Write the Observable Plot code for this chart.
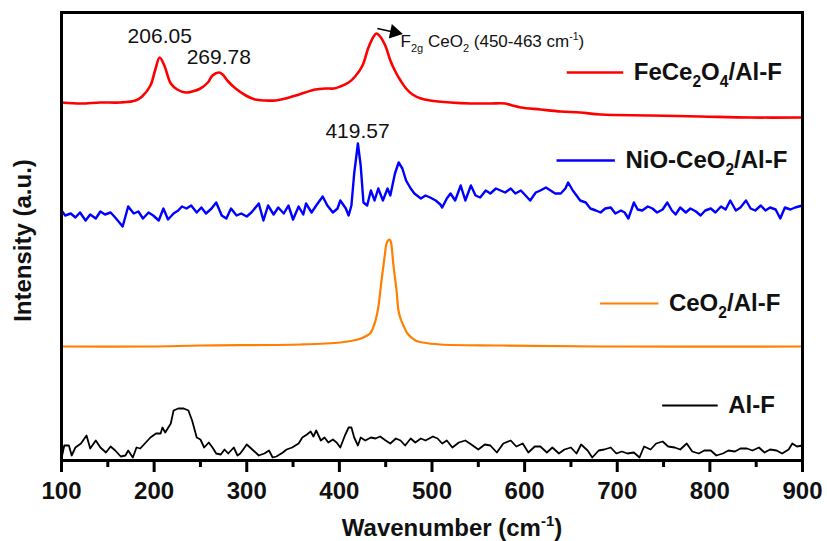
<!DOCTYPE html>
<html><head><meta charset="utf-8">
<script src="https://cdn.jsdelivr.net/npm/d3@7"></script>
<script src="https://cdn.jsdelivr.net/npm/@observablehq/plot@0.6"></script>
<style>body{margin:0;background:#fff}</style>
</head><body><div id="chart"></div>
<script>
// ---- data: [wavenumber (cm-1), stacked intensity (a.u.)] ----
const feCe = [[100,358],[121,357],[142,358],[164,358],[180,360],[187,364],[196,375],[201,390],[206,403],[211,395],[218,377],[225,371],[234,368],[241,369],[250,372],[258,378],[263,385],[270,388],[274,386],[280,379],[288,372],[299,365],[309,361],[320,360],[331,360],[342,362],[353,365],[363,368],[374,371],[385,372],[394,372],[401,374],[410,378],[417,384],[425,395],[431,412],[437,424],[440,427],[444,424],[450,414],[455,400],[461,388],[466,380],[472,372],[479,366],[488,362],[498,360],[520,358],[542,357],[563,357],[579,357],[587,355],[596,353],[617,351],[639,349],[660,348],[682,346],[736,345],[790,344],[844,343],[900,343]];

const nioCe = [[100,250],[104,245],[110,247],[115,243],[120,248],[126,240],[131,246],[137,242],[142,249],[147,246],[153,248],[158,243],[166,234],[172,254],[178,247],[183,249],[188,242],[194,248],[199,245],[205,240],[210,252],[215,241],[221,247],[226,250],[230,254],[235,252],[240,255],[246,248],[251,253],[256,247],[262,252],[267,258],[273,245],[278,242],[283,252],[289,245],[294,247],[300,244],[305,248],[313,257],[318,240],[323,255],[329,246],[334,253],[340,247],[345,255],[350,241],[356,254],[361,246],[364,257],[370,248],[375,255],[382,264],[387,255],[393,248],[398,252],[401,260],[407,252],[410,245],[413,255],[416,287],[420,317],[423,295],[426,258],[430,255],[434,270],[438,260],[442,272],[447,260],[452,272],[455,265],[460,287],[464,298],[468,292],[472,280],[477,272],[481,267],[488,262],[493,265],[498,263],[504,260],[509,256],[511,253],[516,262],[520,267],[525,260],[531,275],[536,260],[542,275],[547,265],[552,263],[558,270],[563,267],[569,272],[574,270],[579,268],[585,272],[590,267],[596,270],[601,265],[606,260],[612,268],[617,270],[623,273],[628,270],[633,267],[639,267],[644,272],[647,278],[652,270],[656,265],[660,260],[666,258],[671,252],[677,250],[682,248],[687,252],[693,253],[698,247],[704,250],[708,248],[712,242],[718,258],[722,251],[727,250],[733,254],[738,252],[743,248],[749,251],[754,258],[759,250],[763,246],[768,253],[774,248],[779,252],[785,249],[790,245],[795,250],[801,252],[806,248],[812,254],[817,251],[822,260],[828,250],[833,253],[839,260],[844,252],[849,250],[855,255],[860,250],[865,253],[871,251],[876,242],[881,253],[887,251],[892,253],[900,255]];

const ceO2 = [[100,114],[196,114],[250,115],[358,116],[401,118],[420,121],[430,125],[434,128],[439,140],[442,153],[445.5,180],[448.7,203],[450.9,217],[452.5,220],[454.1,221],[455.5,219],[456.3,215],[458.4,195],[461.7,170],[463.8,150],[466,142],[469.2,135],[473.5,127],[482.2,120],[490,118],[509,116],[574,115],[682,114],[900,114]];

const alF = [[100,2],[103,15],[108,15],[111,5],[115,13],[121,17],[127,25],[131,12],[137,20],[142,13],[148,8],[153,14],[158,10],[164,4],[169,5],[172,10],[177,3],[181,13],[185,12],[191,18],[196,23],[202,27],[207,27],[209,33],[212,28],[218,37],[221,50],[226,52],[232,52],[237,50],[241,40],[246,23],[250,21],[254,13],[259,18],[263,13],[267,7],[272,6],[276,11],[280,7],[286,13],[290,5],[293,7],[300,16],[306,11],[313,5],[319,7],[324,10],[328,3],[332,4],[339,8],[343,11],[349,13],[356,17],[360,23],[365,26],[369,29],[372,24],[375,30],[380,20],[384,23],[388,18],[393,21],[397,18],[401,13],[406,25],[410,33],[413,33],[416,23],[420,15],[423,23],[428,20],[434,23],[439,22],[444,24],[450,20],[455,17],[461,22],[466,20],[471,15],[477,22],[482,18],[488,22],[493,20],[501,24],[506,22],[511,17],[516,20],[522,13],[529,18],[536,20],[544,15],[550,11],[557,16],[563,15],[570,8],[577,17],[585,20],[591,14],[598,17],[604,8],[611,14],[617,14],[624,8],[630,13],[637,7],[643,11],[650,13],[656,7],[661,16],[668,10],[673,3],[680,10],[686,11],[693,13],[699,7],[705,9],[711,7],[718,8],[724,3],[729,14],[736,11],[742,17],[749,19],[755,14],[762,13],[768,11],[775,17],[781,9],[788,7],[794,10],[801,10],[807,5],[814,7],[820,10],[827,9],[833,12],[840,12],[846,10],[853,13],[859,8],[865,11],[872,10],[878,7],[885,11],[889,17],[894,14],[900,15]];

const seriesNames = ["FeCe_{2}O_{4}/Al-F", "NiO-CeO_{2}/Al-F", "CeO_{2}/Al-F", "Al-F"];
const seriesColors = ["#ff0000", "#0000ff", "#ff7f00", "#000000"];
const xTicks = [100, 200, 300, 400, 500, 600, 700, 800, 900];
const xMinorTicks = [150, 250, 350, 450, 550, 650, 750, 850];
const peakLabels = ["206.05", "269.78", "419.57"];
const peakPositions = [206.05, 269.78, 419.57];
const f2gLabel = "F_{2g} CeO_{2} (450-463 cm^{-1})";

// ---- layout (legend & annotations in data units) ----
const peakLabelHeights = [418, 397, 323];
const legendY = [388, 300, 157, 55];
const legendX1 = [646, 635, 682, 749];
const legendX2 = [707, 698, 745, 809];
const lineWidths = [2.6, 2.4, 2.2, 1.8];
const arrowStart = [441, 432], arrowEnd = [457, 428.8], arrowHead = [459.5, 428.3];
const f2gPos = [466, 419];

const series = [feCe, nioCe, ceO2, alF];
const curves = ["catmull-rom", "linear", "catmull-rom", "linear"];
const FONT = "'Liberation Sans', Arial, Helvetica, sans-serif";

const marks = [];
series.forEach((s, i) => {
  marks.push(Plot.line(s.map(([w, v]) => ({w, v})), {
    x: "w", y: "v", stroke: seriesColors[i], strokeWidth: lineWidths[i], curve: curves[i], strokeLinejoin: "round"
  }));
});
const legendRows = seriesNames.map((name, i) => ({name, i}));
marks.push(
  Plot.ruleY(legendRows, {y: d => legendY[d.i], x1: d => legendX1[d.i], x2: d => legendX2[d.i],
    stroke: d => seriesColors[d.i], strokeWidth: d => lineWidths[d.i]}),
  Plot.text(legendRows, {x: d => legendX2[d.i], y: d => legendY[d.i], text: "name", dx: 10,
    textAnchor: "start", lineAnchor: "middle", fontSize: 24, fontWeight: "bold", fill: "#111"}),
  Plot.text(peakLabels, {x: (d, i) => peakPositions[i], y: (d, i) => peakLabelHeights[i], text: d => d,
    lineAnchor: "bottom", fontSize: 21, fill: "#111"}),
  Plot.link([0], {x1: arrowStart[0], y1: arrowStart[1], x2: arrowEnd[0], y2: arrowEnd[1], stroke: "black", strokeWidth: 1.5}),
  Plot.dot([0], {x: arrowHead[0], y: arrowHead[1], symbol: "triangle", r: 5.5, fill: "black", stroke: "none", rotate: 102}),
  Plot.text([f2gLabel], {x: f2gPos[0], y: f2gPos[1], textAnchor: "start", lineAnchor: "middle", fontSize: 17, fill: "#111"}),
  Plot.frame({stroke: "black", strokeWidth: 3}),
  Plot.axisX({ticks: xTicks, tickSize: 12, tickPadding: 9, strokeWidth: 3, fontSize: 24, fontWeight: "bold",
    tickFormat: d => String(d), label: null, fill: "#111"}),
  Plot.axisX({ticks: xMinorTicks, tickSize: 7, strokeWidth: 3, tickFormat: () => "", label: null}),
  Plot.text(["Wavenumber (cm^{-1})"], {frameAnchor: "bottom", dy: 75, dx: 20, lineAnchor: "bottom",
    fontSize: 24, fontWeight: "bold", fill: "#111"}),
  Plot.text(["Intensity (a.u.)"], {frameAnchor: "left", dx: -38, dy: 4, rotate: -90, textAnchor: "middle",
    lineAnchor: "middle", fontSize: 24, fontWeight: "bold", fill: "#111"})
);

const svg = Plot.plot({
  width: 827, height: 541,
  marginLeft: 61, marginRight: 25, marginTop: 12, marginBottom: 81,
  x: {domain: [100, 900]},
  y: {domain: [0, 448], axis: null},
  style: {fontFamily: FONT, background: "white", overflow: "visible"},
  marks
});
document.getElementById("chart").appendChild(svg);

// sub/superscripts: _{..} and ^{..}
d3.select(svg).selectAll("text").each(function () {
  const t = this.textContent;
  if (!/[_^]\{/.test(t)) return;
  const fs = parseFloat(getComputedStyle(this).fontSize) || 16;
  const parts = t.split(/([_^]\{[^}]*\})/).filter(s => s);
  while (this.firstChild) this.removeChild(this.firstChild);
  for (const p of parts) {
    const ts = document.createElementNS("http://www.w3.org/2000/svg", "tspan");
    if (p.startsWith("_{")) {
      ts.textContent = p.slice(2, -1);
      ts.setAttribute("font-size", (fs * 0.65) + "px");
      ts.setAttribute("baseline-shift", (-fs * 0.3) + "px");
    } else if (p.startsWith("^{")) {
      ts.textContent = p.slice(2, -1);
      ts.setAttribute("font-size", (fs * 0.62) + "px");
      ts.setAttribute("baseline-shift", (fs * 0.42) + "px");
    } else {
      ts.textContent = p;
    }
    this.appendChild(ts);
  }
});
</script>
</body></html>
